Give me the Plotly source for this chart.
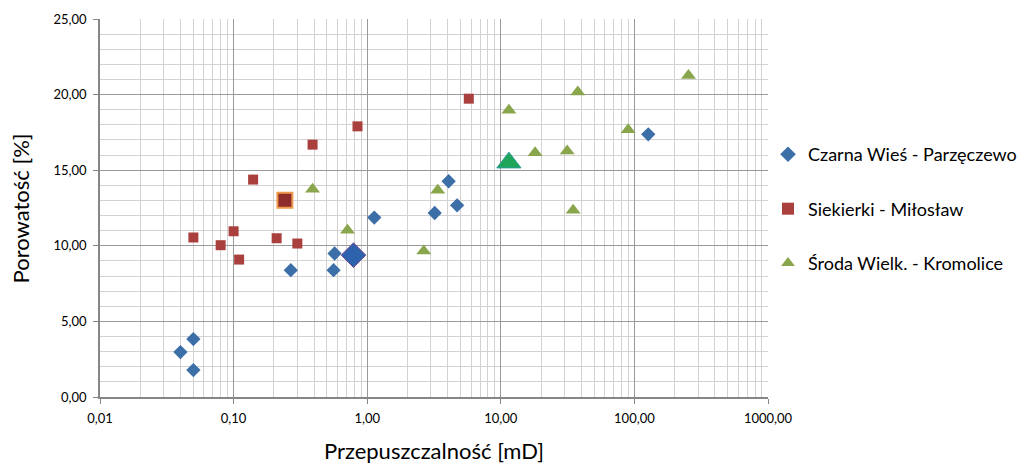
import plotly.graph_objects as go

# Data
cw_x = [0.04, 0.05, 0.05, 0.268, 0.57, 0.56, 1.13, 3.2, 4.71, 4.07, 127]
cw_y = [2.97, 3.83, 1.78, 8.39, 9.49, 8.39, 11.87, 12.17, 12.68, 14.27, 17.37]
cw_mean_x = [0.79]
cw_mean_y = [9.38]

sm_x = [0.05, 0.08, 0.10, 0.11, 0.14, 0.21, 0.30, 0.39, 0.846, 5.76]
sm_y = [10.55, 10.04, 10.96, 9.09, 14.38, 10.5, 10.15, 16.69, 17.9, 19.73]
sm_mean_x = [0.242]
sm_mean_y = [13.01]

sw_x = [0.39, 0.712, 2.65, 3.37, 11.5, 18.06, 31.4, 34.8, 37.7, 89.8, 254]
sw_y = [13.74, 11.03, 9.66, 13.67, 18.96, 16.16, 16.27, 12.35, 20.17, 17.68, 21.27]
sw_mean_x = [11.5]
sw_mean_y = [15.5]

names = ["Czarna Wieś - Parzęczewo", "Siekierki - Miłosław", "Środa Wielk. - Kromolice"]

x_tickvals = [0.01, 0.1, 1, 10, 100, 1000]
x_ticktext = ["0,01", "0,10", "1,00", "10,00", "100,00", "1000,00"]
y_tickvals = [0, 5, 10, 15, 20, 25]
y_ticktext = ["0,00", "5,00", "10,00", "15,00", "20,00", "25,00"]

BLUE = "#3c6ea8"
RED = "#a9403d"
GREEN = "#8aa64c"

W, H = 1027, 456
ML, MR, MT, MB = 92, 263, 11, 67

fig = go.Figure()
fig.add_trace(go.Scatter(x=cw_x, y=cw_y, mode="markers", name=names[0], legendgroup="a",
                         marker=dict(symbol="diamond", size=11, color=BLUE)))
fig.add_trace(go.Scatter(x=sm_x, y=sm_y, mode="markers", name=names[1], legendgroup="b",
                         marker=dict(symbol="square", size=10, color=RED)))
fig.add_trace(go.Scatter(x=sw_x, y=sw_y, mode="markers", name=names[2], legendgroup="c",
                         marker=dict(symbol="triangle-up", size=13, color=GREEN)))
fig.add_trace(go.Scatter(x=cw_mean_x, y=cw_mean_y, mode="markers", showlegend=False,
                         marker=dict(symbol="diamond", size=19, color="#2f62ad",
                                     line=dict(color="#7a4a90", width=1))))
fig.add_trace(go.Scatter(x=sm_mean_x, y=sm_mean_y, mode="markers", showlegend=False,
                         marker=dict(symbol="square", size=15, color="#8e2b2b",
                                     line=dict(color="#ee9a4d", width=2))))
fig.add_trace(go.Scatter(x=sw_mean_x, y=sw_mean_y, mode="markers", showlegend=False,
                         marker=dict(symbol="triangle-up", size=21, color="#1ea55a",
                                     line=dict(color="#2a9a9a", width=1))))

plot_w = W - ML - MR

fig.update_layout(
    width=W, height=H,
    margin=dict(l=ML, r=MR, t=MT, b=MB),
    paper_bgcolor="white", plot_bgcolor="white",
    font=dict(family="Lato, Carlito, sans-serif", color="#000000"),
    showlegend=True,
    legend=dict(xref="container", yref="container", x=760 / W, y=0.559,
                xanchor="left", yanchor="middle",
                font=dict(size=18), tracegroupgap=28, itemsizing="constant",
                itemwidth=30, bgcolor="rgba(0,0,0,0)"),
    annotations=[dict(text="Porowatość [%]", xref="paper", yref="paper",
                      x=(12 - ML) / plot_w, y=0.5, xanchor="center", yanchor="middle",
                      textangle=-90, showarrow=False, font=dict(size=22, color="#000000"))],
    xaxis=dict(type="log", range=[-2, 3], tickvals=x_tickvals, ticktext=x_ticktext,
               automargin=False,
               showgrid=True, gridcolor="#9a9a9a", gridwidth=1,
               minor=dict(dtick="D1", showgrid=True, gridcolor="#d2d2d2", gridwidth=1, ticks=""),
               showline=True, linecolor="#868686", linewidth=1.5,
               ticks="outside", ticklen=5, tickcolor="#868686", ticklabelstandoff=4,
               tickfont=dict(size=13), zeroline=False,
               title=dict(text="Przepuszczalność [mD]", font=dict(size=22), standoff=28)),
    yaxis=dict(range=[0, 25], tickvals=y_tickvals, ticktext=y_ticktext,
               automargin=False,
               showgrid=True, gridcolor="#9a9a9a", gridwidth=1,
               minor=dict(dtick=1, showgrid=True, gridcolor="#d2d2d2", gridwidth=1, ticks=""),
               showline=True, linecolor="#868686", linewidth=1.5,
               ticks="outside", ticklen=5, tickcolor="#868686", ticklabelstandoff=4,
               tickfont=dict(size=13), zeroline=False),
)

fig.write_html("out.html")
